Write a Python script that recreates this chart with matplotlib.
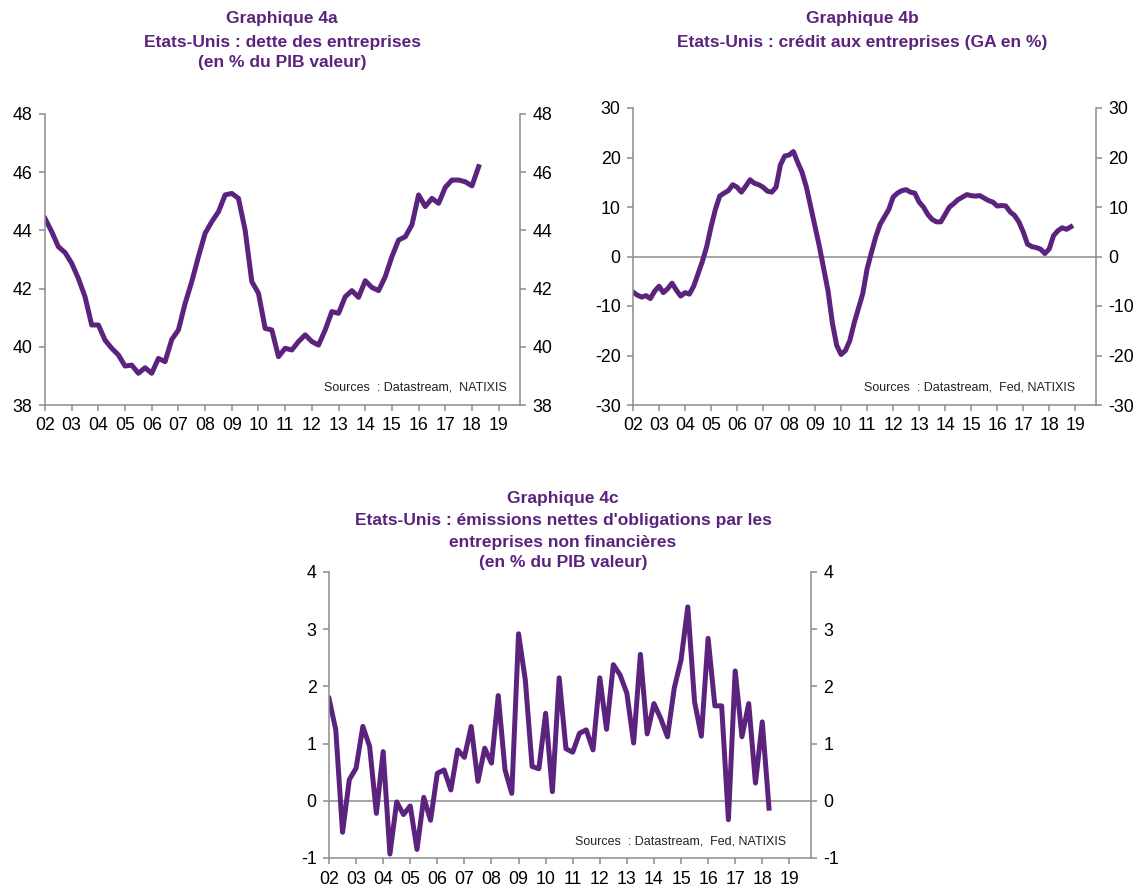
import numpy as np
import matplotlib
matplotlib.use("Agg")
import matplotlib.pyplot as plt

plt.rcParams["axes.unicode_minus"] = False

# Graphique 4a : dette des entreprises (% du PIB), trimestriel 2002T1-2018T2
dette = [44.41, 43.96, 43.44, 43.24, 42.87, 42.35, 41.72, 40.75,
         40.75, 40.23, 39.95, 39.72, 39.34, 39.37, 39.09, 39.28,
         39.09, 39.60, 39.49, 40.25, 40.58, 41.49, 42.24, 43.10,
         43.90, 44.30, 44.64, 45.22, 45.27, 45.10, 44.01, 42.24,
         41.84, 40.63, 40.58, 39.66, 39.95, 39.89, 40.18, 40.41,
         40.18, 40.06, 40.58, 41.21, 41.15, 41.72, 41.93, 41.70,
         42.27, 42.04, 41.93, 42.41, 43.10, 43.67, 43.78, 44.19,
         45.22, 44.82, 45.10, 44.93, 45.48, 45.73, 45.73, 45.67,
         45.53, 46.19]

# Graphique 4b : credit aux entreprises (GA en %), bimestriel 2002-2018
credit = [-7.2, -7.8, -8.2, -7.9, -8.5, -7.0, -6.0, -7.3, -6.5, -5.4,
          -6.8, -8.0, -7.3, -7.6, -6.0, -3.5, -1.0, 2.0, 6.0, 9.5,
          12.2, 12.8, 13.3, 14.5, 14.0, 13.0, 14.2, 15.5, 14.8, 14.5,
          14.0, 13.2, 13.0, 14.0, 18.5, 20.3, 20.5, 21.2, 19.0, 17.0,
          14.0, 10.0, 6.0, 2.0, -2.5, -7.0, -13.5, -18.0, -19.8, -19.0,
          -17.0, -13.5, -10.5, -7.5, -2.5, 0.8, 4.0, 6.5, 8.0, 9.5,
          12.0, 12.8, 13.3, 13.5, 13.0, 12.8, 11.0, 10.0, 8.5, 7.5,
          7.0, 7.0, 8.5, 10.0, 10.7, 11.5, 12.0, 12.5, 12.3, 12.2,
          12.3, 11.8, 11.3, 11.0, 10.2, 10.3, 10.2, 9.0, 8.3, 7.0,
          5.0, 2.5, 2.0, 1.8, 1.5, 0.6, 1.5, 4.2, 5.2, 5.8,
          5.5, 6.0]

# Graphique 4c : emissions nettes d'obligations (% du PIB), trimestriel
emissions = [1.79, 1.24, -0.55, 0.37, 0.57, 1.30, 0.95, -0.22,
             0.86, -0.93, -0.02, -0.24, -0.09, -0.85, 0.06, -0.34,
             0.48, 0.54, 0.19, 0.89, 0.76, 1.30, 0.34, 0.92,
             0.66, 1.84, 0.54, 0.13, 2.92, 2.11, 0.60, 0.56,
             1.53, 0.16, 2.15, 0.91, 0.85, 1.18, 1.24, 0.89,
             2.15, 1.25, 2.38, 2.20, 1.88, 1.01, 2.56, 1.17,
             1.70, 1.44, 1.12, 1.97, 2.46, 3.39, 1.73, 1.13,
             2.84, 1.66, 1.66, -0.33, 2.27, 1.12, 1.70, 0.31,
             1.38, -0.13]

years = list(range(2002, 2020))
year_labels = ["%02d" % (y % 100) for y in years]

t_dette = 2002 + np.arange(len(dette)) / 4
t_credit = 2002 + np.arange(len(credit)) / 6
t_emis = 2002 + np.arange(len(emissions)) / 4

W, H = 1137, 886
PURPLE = "#5b237d"
GREY = "#8c8c8c"
NUM_FONT = "Liberation Sans"
TITLE_FONT = ["Liberation Sans Narrow", "Liberation Sans", "DejaVu Sans"]


def box(x0, y0, x1, y1):
    return [x0 / W, 1 - y1 / H, (x1 - x0) / W, (y1 - y0) / H]


def style(ax, ylim, yticks, zero=False):
    ax.set_xlim(2002, 2019.8)
    ax.set_ylim(*ylim)
    ax.set_yticks(yticks)
    ax.set_xticks(years)
    ax.set_xticklabels(year_labels)
    ax.spines["top"].set_visible(False)
    for s in ["left", "right", "bottom"]:
        ax.spines[s].set_color(GREY)
        ax.spines[s].set_linewidth(1.1)
    ax.tick_params(axis="y", left=True, right=True, labelleft=True,
                   labelright=True, direction="out", length=4,
                   color=GREY, width=1.1, labelsize=12.8, pad=5)
    ax.tick_params(axis="x", direction="out", length=4, color=GREY,
                   width=1.1, labelsize=12.8, pad=5)
    for lab in ax.get_xticklabels() + ax.get_yticklabels():
        lab.set_family(NUM_FONT)
    if zero:
        ax.axhline(0, color=GREY, lw=1.1, zorder=1)


def title(x, y_lines, lines):
    for y, txt in zip(y_lines, lines):
        fig.text(x / W, 1 - y / H, txt, ha="center", va="center",
                 color=PURPLE, fontsize=12.5, fontweight="bold",
                 family=TITLE_FONT)


def source(x, y, txt):
    fig.text(x / W, 1 - y / H, txt, ha="right", va="center",
             fontsize=9, family=NUM_FONT, color="#222222")


fig = plt.figure(figsize=(W / 100, H / 100), dpi=100)

ax1 = fig.add_axes(box(45, 114, 520, 405))
ax1.plot(t_dette, dette, color=PURPLE, lw=3.6, solid_joinstyle="round")
style(ax1, (38, 48), range(38, 49, 2))

ax2 = fig.add_axes(box(633, 108, 1096, 405))
ax2.plot(t_credit, credit, color=PURPLE, lw=3.6, solid_joinstyle="round")
style(ax2, (-30, 30), range(-30, 31, 10), zero=True)

ax3 = fig.add_axes(box(329, 572, 811, 858))
ax3.plot(t_emis, emissions, color=PURPLE, lw=3.6, solid_joinstyle="round")
style(ax3, (-1, 4), range(-1, 5), zero=True)

title(282, [18, 42, 63], ["Graphique 4a",
                          "Etats-Unis : dette des entreprises",
                          "(en % du PIB valeur)"])
title(862, [18, 42], ["Graphique 4b",
                      "Etats-Unis : crédit aux entreprises (GA en %)"])
title(563, [499, 521, 542, 563],
      ["Graphique 4c",
       "Etats-Unis : émissions nettes d'obligations par les",
       "entreprises non financières",
       "(en % du PIB valeur)"])

source(507, 387, "Sources  : Datastream,  NATIXIS")
source(1075, 388, "Sources  : Datastream,  Fed, NATIXIS")
source(786, 842, "Sources  : Datastream,  Fed, NATIXIS")

fig.savefig("out.png", dpi=100)
